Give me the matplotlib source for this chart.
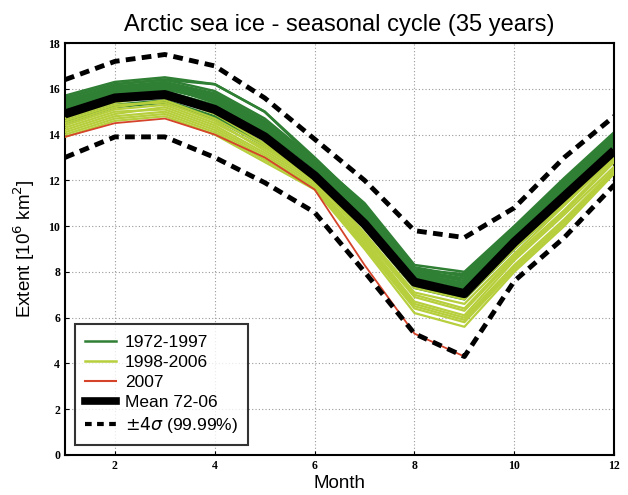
'''Arctic sea ice extent - seasonal cycle 1972-2007'''
import matplotlib.pyplot as plt
from matplotlib.lines import Line2D

months = [1, 2, 3, 4, 5, 6, 7, 8, 9, 10, 11, 12]

# monthly extent, 10^6 km^2, one row per year 1972-1997
years_72_97 = [
    [15.7, 16.3, 16.5, 16.2, 15.0, 12.9, 11.0, 8.3, 8.0, 10.0, 12.1, 14.1],
    [15.6, 16.2, 16.4, 15.9, 14.7, 12.9, 10.9, 8.2, 7.8, 9.9, 12.0, 14.0],
    [15.5, 16.1, 16.3, 15.8, 14.6, 12.8, 10.8, 8.1, 7.7, 9.8, 11.9, 13.9],
    [15.4, 16.1, 16.2, 15.7, 14.5, 12.7, 10.7, 8.0, 7.6, 9.7, 11.8, 13.8],
    [15.5, 16.0, 16.1, 15.6, 14.4, 12.8, 10.6, 7.9, 7.5, 9.6, 11.7, 13.7],
    [15.3, 16.0, 16.2, 15.5, 14.3, 12.6, 10.5, 8.0, 7.4, 9.7, 11.6, 13.7],
    [15.3, 15.9, 16.0, 15.6, 14.5, 12.7, 10.7, 7.8, 7.4, 9.5, 11.5, 13.6],
    [15.1, 15.9, 16.1, 15.4, 14.2, 12.6, 10.4, 7.9, 7.3, 9.6, 11.6, 13.5],
    [15.4, 16.0, 16.3, 15.7, 14.3, 12.5, 10.6, 7.7, 7.5, 9.4, 11.7, 13.8],
    [15.2, 15.8, 16.0, 15.5, 14.4, 12.7, 10.5, 7.8, 7.2, 9.5, 11.4, 13.6],
    [15.3, 15.9, 16.2, 15.6, 14.2, 12.5, 10.3, 7.6, 7.3, 9.3, 11.5, 13.5],
    [15.0, 15.8, 15.9, 15.3, 14.1, 12.6, 10.4, 7.7, 7.1, 9.4, 11.3, 13.4],
    [15.6, 16.2, 16.4, 16.2, 15.0, 13.0, 10.9, 8.1, 7.9, 9.9, 11.9, 14.0],
    [15.1, 15.7, 16.1, 15.4, 14.3, 12.7, 10.6, 7.8, 7.4, 9.5, 11.4, 13.5],
    [15.4, 16.0, 16.2, 15.7, 14.5, 12.8, 10.7, 8.0, 7.7, 9.7, 11.8, 13.7],
    [15.2, 15.8, 16.0, 15.5, 14.2, 12.6, 10.5, 7.9, 7.5, 9.6, 11.6, 13.6],
    [14.6, 15.3, 15.5, 14.8, 13.6, 12.2, 10.0, 7.4, 6.9, 9.1, 11.1, 13.1],
    [14.5, 15.2, 15.4, 14.7, 13.5, 12.1, 9.9, 7.3, 6.8, 9.0, 11.0, 13.0],
]

# 1998-2006
years_98_06 = [
    [14.7, 15.4, 15.7, 14.9, 13.6, 12.2, 9.9, 7.3, 6.8, 9.0, 11.0, 13.1],
    [14.5, 15.2, 15.5, 14.7, 13.5, 12.1, 9.7, 7.1, 6.6, 8.8, 10.9, 13.0],
    [14.6, 15.3, 15.4, 14.6, 13.3, 12.0, 9.6, 7.0, 6.4, 8.7, 10.7, 12.9],
    [14.4, 15.1, 15.3, 14.5, 13.4, 12.1, 9.5, 6.9, 6.3, 8.6, 10.6, 12.8],
    [14.2, 14.9, 15.2, 14.4, 13.2, 11.9, 9.4, 6.7, 6.1, 8.5, 10.5, 12.6],
    [14.3, 15.0, 15.1, 14.3, 13.1, 11.8, 9.3, 6.6, 6.0, 8.3, 10.3, 12.5],
    [14.1, 14.8, 15.0, 14.2, 13.0, 11.7, 9.2, 6.5, 5.9, 8.2, 10.2, 12.4],
    [14.0, 14.7, 14.9, 14.1, 12.9, 11.7, 9.1, 6.4, 5.8, 8.1, 10.1, 12.3],
    [13.9, 14.6, 14.8, 14.0, 12.8, 11.6, 9.0, 6.2, 5.6, 8.0, 10.0, 12.3],
]

# 2007, January to September only
months_2007 = [1, 2, 3, 4, 5, 6, 7, 8, 9]
year_2007 = [13.9, 14.5, 14.7, 14.0, 13.0, 11.6, 8.3, 5.3, 4.3]

mean_72_06 = [14.9, 15.6, 15.75, 15.1, 13.9, 12.2, 10.1, 7.55, 7.05, 9.3, 11.3, 13.3]
upper_4sigma = [16.4, 17.2, 17.5, 17.0, 15.6, 13.8, 12.0, 9.8, 9.5, 10.8, 13.0, 14.8]
lower_4sigma = [13.0, 13.9, 13.9, 13.0, 11.9, 10.6, 8.0, 5.3, 4.3, 7.6, 9.5, 11.8]

green = '#2f7f34'
yellow = '#b7cf3c'
red = '#d4432a'

plt.rcParams['font.family'] = ['Liberation Sans', 'DejaVu Sans']

fig = plt.figure(figsize=(6.28, 4.95), dpi=100)
ax = fig.add_axes([0.1035, 0.081, 0.8745, 0.832])

for row in years_72_97:
    ax.plot(months, row, color=green, lw=1.8, zorder=2)
for row in years_98_06:
    ax.plot(months, row, color=yellow, lw=1.6, zorder=3)
ax.plot(months_2007, year_2007, color=red, lw=1.3, zorder=4)
ax.plot(months, mean_72_06, color='black', lw=6.5, solid_capstyle='butt', zorder=5)
ax.plot(months, upper_4sigma, color='black', lw=3.5, dashes=(2.0, 1.3), zorder=6)
ax.plot(months, lower_4sigma, color='black', lw=3.5, dashes=(2.0, 1.3), zorder=6)

ax.set_xlim(1, 12)
ax.set_ylim(0, 18)
ax.set_xticks([2, 4, 6, 8, 10, 12])
ax.set_yticks(range(0, 19, 2))
ax.tick_params(direction='in', length=3, labelsize=8.5, width=0.8)
for lab in ax.get_xticklabels() + ax.get_yticklabels():
    lab.set_family(['Liberation Serif', 'DejaVu Serif'])
    lab.set_fontweight('bold')
ax.grid(True, linestyle=(0, (1, 2)), color='#999999', lw=0.8)
for s in ax.spines.values():
    s.set_linewidth(1.5)

ax.set_title('Arctic sea ice - seasonal cycle (35 years)', fontsize=17, pad=9)
ax.set_xlabel('Month', fontsize=13.5, labelpad=2)
ax.set_ylabel('Extent [10$^6$ km$^2$]', fontsize=13.5, labelpad=8)

handles = [
    Line2D([], [], color=green, lw=1.8),
    Line2D([], [], color=yellow, lw=1.8),
    Line2D([], [], color=red, lw=1.5),
    Line2D([], [], color='black', lw=5.5),
    Line2D([], [], color='black', lw=3, dashes=(1.6, 1.3)),
]
labels = ['1972-1997', '1998-2006', '2007', 'Mean 72-06', r'$\pm4\sigma$ (99.99%)']
leg = ax.legend(handles, labels, loc='lower left', fontsize=12.5, frameon=True,
                fancybox=False, edgecolor='black', handlelength=1.8,
                handletextpad=0.5, borderaxespad=0.55, borderpad=0.6,
                labelspacing=0.28)
leg.get_frame().set_linewidth(1.5)

fig.savefig('out.png', dpi=100)
